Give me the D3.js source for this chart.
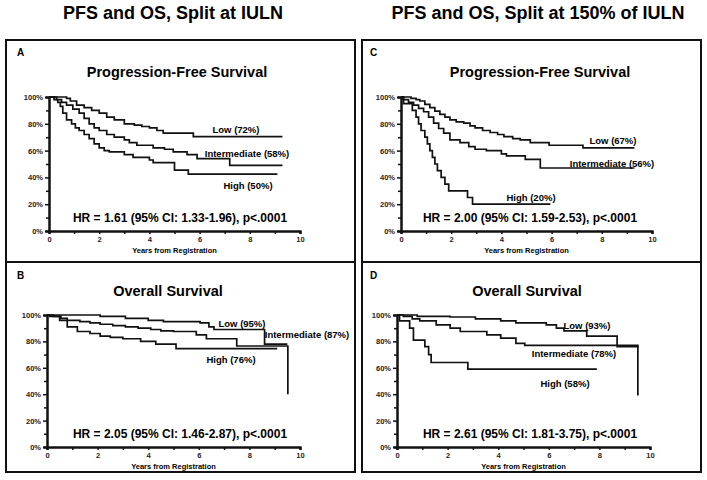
<!DOCTYPE html>
<html><head><meta charset="utf-8">
<script src="https://cdn.jsdelivr.net/npm/d3@7"></script>
<style>
html,body{margin:0;padding:0;background:#fff;}
svg{display:block;font-family:"Liberation Sans",Arial,sans-serif;font-weight:bold;}
</style></head>
<body>
<svg id="chart" width="707" height="480"></svg>
<script>
// ---------- data (Kaplan-Meier steps: [years, survival]) ----------
const columnTitles = ["PFS and OS, Split at IULN", "PFS and OS, Split at 150% of IULN"];
const panelLetters = ["A", "B", "C", "D"];
const panelTitles = ["Progression-Free Survival", "Overall Survival", "Progression-Free Survival", "Overall Survival"];
const hrTexts = [
  "HR = 1.61 (95% CI: 1.33-1.96), p<.0001",
  "HR = 2.05 (95% CI: 1.46-2.87), p<.0001",
  "HR = 2.00 (95% CI: 1.59-2.53), p<.0001",
  "HR = 2.61 (95% CI: 1.81-3.75), p<.0001"
];
const xTicks = [0, 2, 4, 6, 8, 10];
const yTicks = [0, 0.2, 0.4, 0.6, 0.8, 1.0];

// Panel A: PFS, split at IULN
const aLow = [[0,1],[0.7,0.99],[0.85,0.97],[1.1,0.94],[1.4,0.92],[1.7,0.9],[2.0,0.88],[2.3,0.85],[2.6,0.83],[3.0,0.8],[3.4,0.79],[3.7,0.78],[4.0,0.77],[4.3,0.75],[4.55,0.73],[5.75,0.705],[9.3,0.705]];
const aInt = [[0,1],[0.3,0.98],[0.5,0.96],[0.7,0.94],[0.95,0.91],[1.2,0.88],[1.4,0.84],[1.6,0.8],[1.8,0.77],[2.0,0.75],[2.3,0.72],[2.6,0.7],[3.0,0.68],[3.2,0.66],[3.5,0.64],[4.15,0.62],[4.6,0.61],[4.95,0.59],[5.5,0.57],[5.9,0.54],[7.2,0.49],[9.3,0.49]];
const aHigh = [[0,1],[0.2,0.98],[0.35,0.96],[0.45,0.93],[0.55,0.88],[0.7,0.83],[0.9,0.8],[1.05,0.77],[1.2,0.75],[1.4,0.72],[1.6,0.69],[1.8,0.65],[2.0,0.62],[2.2,0.6],[2.4,0.59],[3.0,0.57],[3.35,0.55],[4.0,0.53],[4.15,0.51],[5.0,0.455],[5.55,0.425],[9.1,0.425]];

// Panel B: OS, split at IULN
const bLow = [[0,1],[2.1,0.99],[3.1,0.975],[4.0,0.96],[4.6,0.95],[6.05,0.94],[6.4,0.91],[6.6,0.89],[8.6,0.78],[9.5,0.78]];
const bInt = [[0,1],[0.25,0.99],[0.55,0.975],[0.8,0.96],[1.3,0.95],[1.7,0.94],[2.1,0.93],[2.6,0.92],[3.1,0.91],[3.6,0.9],[4.1,0.89],[4.5,0.88],[5.0,0.875],[5.9,0.85],[6.3,0.82],[7.5,0.765],[9.5,0.765],[9.52,0.4]];
const bHigh = [[0,1],[0.1,0.99],[0.5,0.96],[0.8,0.91],[1.2,0.875],[1.7,0.86],[2.1,0.84],[2.5,0.83],[3.0,0.82],[3.7,0.8],[4.3,0.78],[5.1,0.745],[9.1,0.745]];

// Panel C: PFS, split at 150% of IULN
const cLow = [[0,1],[0.4,0.99],[0.6,0.98],[0.75,0.97],[0.95,0.945],[1.15,0.92],[1.35,0.895],[1.55,0.87],[1.75,0.85],[1.95,0.83],[2.2,0.815],[2.5,0.805],[2.75,0.785],[2.95,0.77],[3.25,0.75],[3.55,0.735],[3.85,0.72],[4.1,0.705],[4.45,0.69],[4.75,0.68],[5.15,0.66],[5.9,0.64],[7.25,0.62],[9.3,0.62]];
const cInt = [[0,1],[0.1,0.98],[0.3,0.96],[0.5,0.94],[0.7,0.915],[0.9,0.89],[1.1,0.85],[1.3,0.805],[1.5,0.765],[1.7,0.73],[1.95,0.68],[2.35,0.66],[2.7,0.63],[2.95,0.61],[3.4,0.6],[4.0,0.575],[4.2,0.56],[4.95,0.535],[5.55,0.47],[9.3,0.47]];
const cHigh = [[0,1],[0.1,0.95],[0.45,0.9],[0.6,0.85],[0.7,0.8],[0.8,0.75],[0.95,0.7],[1.05,0.65],[1.15,0.6],[1.25,0.55],[1.35,0.5],[1.45,0.45],[1.6,0.4],[1.75,0.35],[1.9,0.3],[2.65,0.25],[2.85,0.2],[5.95,0.2]];

// Panel D: OS, split at 150% of IULN
const dLow = [[0,1],[0.8,0.99],[2.1,0.985],[3.1,0.97],[4.1,0.955],[4.7,0.94],[5.9,0.925],[6.3,0.9],[6.6,0.88],[7.5,0.84],[8.7,0.76],[9.55,0.76]];
const dInt = [[0,1],[0.25,0.99],[0.6,0.97],[0.9,0.955],[1.55,0.925],[2.1,0.9],[2.5,0.875],[3.55,0.85],[4.1,0.825],[4.7,0.785],[5.05,0.77],[9.5,0.77],[9.52,0.39]];
const dHigh = [[0,1],[0.1,0.955],[0.5,0.9],[0.65,0.81],[1.1,0.76],[1.25,0.7],[1.35,0.64],[2.8,0.59],[7.9,0.59]];

const curveLabels = [
  ["Low (72%)", "Intermediate (58%)", "High (50%)"],
  ["Low (95%)", "Intermediate (87%)", "High (76%)"],
  ["Low (67%)", "Intermediate (56%)", "High (20%)"],
  ["Low (93%)", "Intermediate (78%)", "High (58%)"]
];
const panelSeries = [[aLow, aInt, aHigh], [bLow, bInt, bHigh], [cLow, cInt, cHigh], [dLow, dInt, dHigh]];

// ---------- layout ----------
const svg = d3.select("#chart");
const boxes = [{x0: 6, x1: 355, y0: 40, ymid: 262, y1: 472}, {x0: 362, x1: 701, y0: 40, ymid: 262, y1: 472}];
const panels = [
  {col: 0, px0: 49, px1: 300, py0: 97, py1: 231, letter: [17, 56], title: [177, 77], hr: [180, 222],
   labels: [[236, 133], [247, 157], [248, 189]]},
  {col: 0, px0: 47, px1: 300, py0: 315, py1: 447, letter: [17, 279], title: [168, 296], hr: [180, 438],
   labels: [[242, 327], [307, 338], [231, 363]]},
  {col: 1, px0: 401, px1: 652, py0: 97, py1: 231, letter: [370, 56], title: [540, 77], hr: [530, 222],
   labels: [[613, 144], [612, 167], [531, 201]]},
  {col: 1, px0: 397, px1: 650, py0: 315, py1: 447, letter: [370, 279], title: [527, 296], hr: [530, 438],
   labels: [[587, 329], [574, 357], [565, 387]]}
];

// column titles
columnTitles.forEach((t, i) => {
  svg.append("text").attr("x", i === 0 ? 173 : 538).attr("y", 19)
    .attr("text-anchor", "middle").attr("font-size", 18).text(t);
});

// boxes
boxes.forEach(b => {
  svg.append("rect").attr("x", b.x0).attr("y", b.y0).attr("width", b.x1 - b.x0).attr("height", b.y1 - b.y0)
    .attr("fill", "none").attr("stroke", "#111").attr("stroke-width", 2);
  svg.append("line").attr("x1", b.x0).attr("x2", b.x1).attr("y1", b.ymid).attr("y2", b.ymid)
    .attr("stroke", "#111").attr("stroke-width", 2);
});

panels.forEach((p, i) => {
  const g = svg.append("g");
  const x = d3.scaleLinear().domain([0, 10]).range([p.px0, p.px1]);
  const y = d3.scaleLinear().domain([0, 1]).range([p.py1, p.py0]);

  g.append("text").attr("x", p.letter[0]).attr("y", p.letter[1]).attr("font-size", 10).text(panelLetters[i]);
  g.append("text").attr("x", p.title[0]).attr("y", p.title[1]).attr("text-anchor", "middle")
    .attr("font-size", 14.5).text(panelTitles[i]);

  // axes
  const xAxis = d3.axisBottom(x).tickValues(xTicks).tickFormat(d3.format("d")).tickSize(3).tickPadding(3);
  const xMinor = d3.axisBottom(x).tickValues([1, 3, 5, 7, 9]).tickFormat("").tickSize(3);
  const yAxis = d3.axisLeft(y).tickValues(yTicks).tickFormat(d3.format(".0%")).tickSize(4).tickPadding(2);
  const yMinor = d3.axisLeft(y).tickValues([0.1, 0.3, 0.5, 0.7, 0.9]).tickFormat("").tickSize(3);
  [[xAxis, "x"], [xMinor, "x"], [yAxis, "y"], [yMinor, "y"]].forEach(([ax, k]) => {
    const a = g.append("g").attr("transform", k === "x" ? `translate(0,${p.py1})` : `translate(${p.px0},0)`).call(ax);
    a.select(".domain").attr("stroke", "#111").attr("stroke-width", 2);
    a.selectAll(".tick line").attr("stroke", "#111").attr("stroke-width", 1.5);
    a.selectAll(".tick text").attr("font-size", 7.5).attr("font-family", "Liberation Sans, Arial, sans-serif")
      .attr("font-weight", "bold").attr("fill", "#222");
  });
  g.append("text").attr("x", (p.px0 + p.px1) / 2).attr("y", p.py1 + 22).attr("text-anchor", "middle")
    .attr("font-size", 7.5).text("Years from Registration");

  // curves
  const line = d3.line().x(d => x(d[0])).y(d => y(d[1])).curve(d3.curveStepAfter);
  panelSeries[i].forEach(s => {
    g.append("path").attr("d", line(s)).attr("fill", "none").attr("stroke", "#111").attr("stroke-width", 1.7);
  });

  curveLabels[i].forEach((lab, j) => {
    g.append("text").attr("x", p.labels[j][0]).attr("y", p.labels[j][1]).attr("text-anchor", "middle")
      .attr("font-size", 9.5).text(lab);
  });

  g.append("text").attr("x", p.hr[0]).attr("y", p.hr[1]).attr("text-anchor", "middle")
    .attr("font-size", 12).text(hrTexts[i]);
});
</script>
</body></html>
